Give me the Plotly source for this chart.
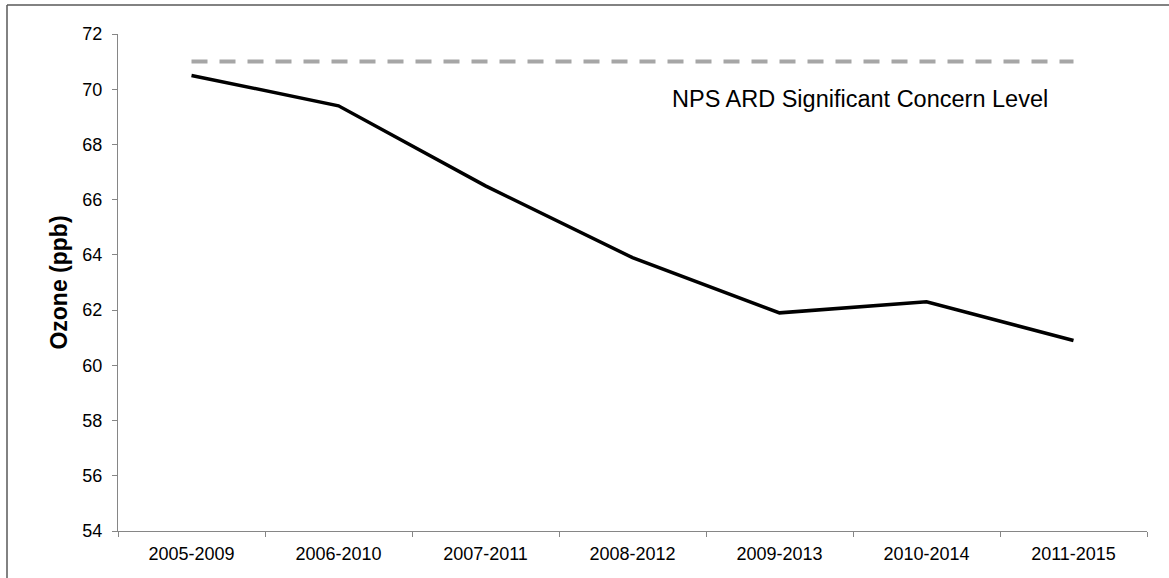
import plotly.graph_objects as go

periods = ["2005-2009", "2006-2010", "2007-2011", "2008-2012", "2009-2013", "2010-2014", "2011-2015"]
ozone = [70.5, 69.4, 66.5, 63.9, 61.9, 62.3, 60.9]
concern_level = 71
concern_label = "NPS ARD Significant Concern Level"
y_ticks = [54, 56, 58, 60, 62, 64, 66, 68, 70, 72]

FONT = "Arial, 'Liberation Sans', sans-serif"

fig = go.Figure()
fig.add_trace(go.Scatter(
    x=periods, y=[concern_level] * len(periods), mode="lines",
    line=dict(color="#A6A6A6", width=4, dash="16px,12px"),
    hoverinfo="skip", showlegend=False))
fig.add_trace(go.Scatter(
    x=periods, y=ozone, mode="lines",
    line=dict(color="#000000", width=3.5),
    showlegend=False))

fig.add_annotation(
    x=4.55, y=69.65, xref="x", yref="y", text=concern_label, showarrow=False,
    font=dict(family=FONT, size=23.5, color="#000000"))

L, R, T, B = 118, 1147, 34, 531
W, H = 1169, 578
pw, ph = R - L, B - T
bx0 = (7 - L) / pw
bx1 = (W + 20 - L) / pw
by_top = 1 + (T - 5) / ph
by_bot = -(H + 20 - B) / ph
border = dict(color="#595959", width=1.5)
fig.add_shape(type="line", xref="paper", yref="paper",
              x0=bx0, x1=bx1, y0=by_top, y1=by_top, line=border, layer="below")
fig.add_shape(type="line", xref="paper", yref="paper",
              x0=bx0, x1=bx0, y0=by_bot, y1=by_top, line=border, layer="below")

fig.update_layout(
    width=W, height=H,
    margin=dict(l=L, r=W - R, t=T, b=H - B),
    paper_bgcolor="white", plot_bgcolor="white",
    font=dict(family=FONT, size=18, color="#000000"),
    xaxis=dict(
        type="category", range=[-0.5, 6.5], showgrid=False,
        showline=True, linecolor="#868686", linewidth=1,
        ticks="outside", ticklen=5, tickcolor="#868686", tickson="boundaries",
        tickfont=dict(size=18), zeroline=False, ticklabelstandoff=6),
    yaxis=dict(
        range=[54, 72], tickvals=y_ticks, showgrid=False,
        showline=True, linecolor="#868686", linewidth=1,
        ticks="outside", ticklen=5, tickcolor="#868686",
        tickfont=dict(size=18), zeroline=False, ticklabelstandoff=6,
        title=dict(text="<b>Ozone (ppb)</b>", font=dict(size=23), standoff=8)),
)

fig.write_html("out.html", config={"displayModeBar": False},
               post_script="document.body.style.margin='0';document.body.style.overflow='hidden';")
